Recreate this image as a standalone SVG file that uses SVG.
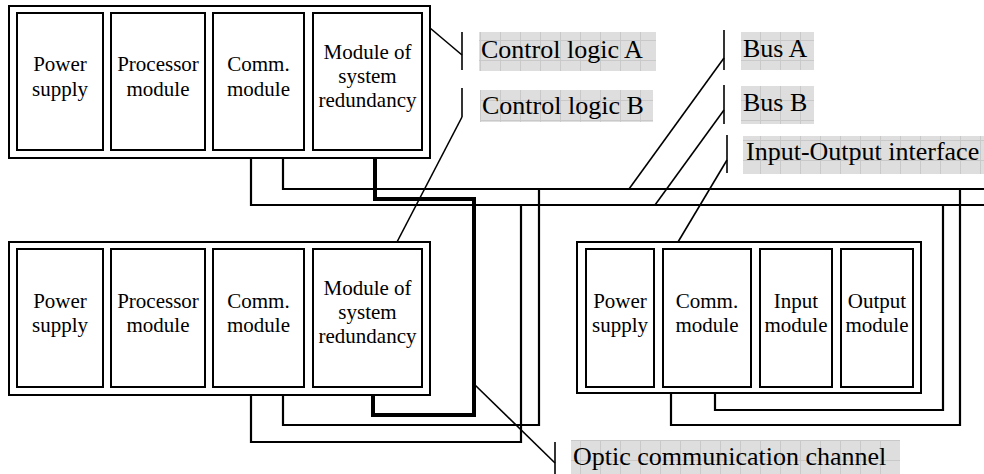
<svg xmlns="http://www.w3.org/2000/svg" width="984" height="474" viewBox="0 0 984 474">
<defs>
<pattern id="grid" width="20" height="20" patternUnits="userSpaceOnUse">
<rect width="20" height="20" fill="#dedede"/>
<path d="M0.5,0 V20 M0,0.5 H20" stroke="#c9c9c9" stroke-width="1"/>
</pattern>
<style>
.rack{fill:#fff;stroke:#000;stroke-width:2}
.mod{fill:#fff;stroke:#000;stroke-width:2}
.mt{font-family:"Liberation Serif","Times New Roman",serif;font-size:21px;text-anchor:middle;fill:#000}
.lb{font-family:"Liberation Serif","Times New Roman",serif;font-size:26px;fill:#000}
.bg{fill:url(#grid)}
.wire{fill:none;stroke:#000;stroke-width:2.2}
.thick{fill:none;stroke:#000;stroke-width:4}
.lead{fill:none;stroke:#000;stroke-width:1.6}
</style>
</defs>
<rect width="984" height="474" fill="#fff"/>

<g id="connectors">
<path class="wire" d="M251,150 V205 H984"/>
<path class="wire" d="M283,150 V189 H984"/>
<path class="wire" d="M251,387 V442 H521 V205"/>
<path class="wire" d="M283,387 V425 H539 V189"/>
<path class="wire" d="M671,387 V425 H960 V189"/>
<path class="wire" d="M715,387 V410 H943 V205"/>
<path class="thick" d="M375,150 V199 H474 V415 H373 V387"/>
<path class="lead" d="M430,28 L462,55"/>
<path class="lead" d="M462,117 L397,242"/>
<path class="lead" d="M724,58 L629,189"/>
<path class="lead" d="M724,110 L655,205"/>
<path class="lead" d="M727,160 L678,242"/>
<path class="lead" d="M475,385 L555,463"/>
</g>

<g id="rack-top">
<rect class="rack" x="9" y="6" width="421" height="152"/>
<g id="top-power"><rect class="mod" x="17" y="13" width="86" height="137"/>
<text class="mt" x="60" y="71">Power</text><text class="mt" x="60" y="95.5">supply</text></g>
<g id="top-processor"><rect class="mod" x="111" y="13" width="94" height="137"/>
<text class="mt" x="158" y="71">Processor</text><text class="mt" x="158" y="95.5">module</text></g>
<g id="top-comm"><rect class="mod" x="213" y="13" width="91" height="137"/>
<text class="mt" x="258.5" y="71">Comm.</text><text class="mt" x="258.5" y="95.5">module</text></g>
<g id="top-redundancy"><rect class="mod" x="313" y="13" width="109" height="137"/>
<text class="mt" x="367.5" y="59">Module of</text><text class="mt" x="367.5" y="83">system</text><text class="mt" x="367.5" y="107">redundancy</text></g>
</g>

<g id="rack-bottom">
<rect class="rack" x="9" y="242" width="421" height="153"/>
<g id="bot-power"><rect class="mod" x="17" y="249" width="86" height="138"/>
<text class="mt" x="60" y="307.5">Power</text><text class="mt" x="60" y="331.5">supply</text></g>
<g id="bot-processor"><rect class="mod" x="111" y="249" width="94" height="138"/>
<text class="mt" x="158" y="307.5">Processor</text><text class="mt" x="158" y="331.5">module</text></g>
<g id="bot-comm"><rect class="mod" x="213" y="249" width="91" height="138"/>
<text class="mt" x="258.5" y="307.5">Comm.</text><text class="mt" x="258.5" y="331.5">module</text></g>
<g id="bot-redundancy"><rect class="mod" x="313" y="249" width="109" height="138"/>
<text class="mt" x="367.5" y="295">Module of</text><text class="mt" x="367.5" y="319">system</text><text class="mt" x="367.5" y="343">redundancy</text></g>
</g>

<g id="rack-io">
<rect class="rack" x="577" y="242" width="344" height="151"/>
<g id="io-power"><rect class="mod" x="586" y="249" width="68" height="138"/>
<text class="mt" x="620" y="307.5">Power</text><text class="mt" x="620" y="331.5">supply</text></g>
<g id="io-comm"><rect class="mod" x="663" y="249" width="88" height="138"/>
<text class="mt" x="707" y="307.5">Comm.</text><text class="mt" x="707" y="331.5">module</text></g>
<g id="io-input"><rect class="mod" x="760" y="249" width="72" height="138"/>
<text class="mt" x="796" y="307.5">Input</text><text class="mt" x="796" y="331.5">module</text></g>
<g id="io-output"><rect class="mod" x="841" y="249" width="72" height="138"/>
<text class="mt" x="877" y="307.5">Output</text><text class="mt" x="877" y="331.5">module</text></g>
</g>

<g id="label-control-a">
<path class="lead" d="M462,32 V70"/>
<rect class="bg" x="479" y="32" width="177" height="39"/>
<text class="lb" x="481" y="58">Control logic A</text>
</g>
<g id="label-control-b">
<path class="lead" d="M462,88 V117"/>
<rect class="bg" x="480" y="90" width="173" height="32"/>
<text class="lb" x="482" y="114">Control logic B</text>
</g>
<g id="label-bus-a">
<path class="lead" d="M724,30 V70"/>
<rect class="bg" x="741" y="32" width="73" height="38"/>
<text class="lb" x="743" y="57">Bus A</text>
</g>
<g id="label-bus-b">
<path class="lead" d="M724,85 V124"/>
<rect class="bg" x="741" y="86" width="73" height="38"/>
<text class="lb" x="743" y="111">Bus B</text>
</g>
<g id="label-io">
<path class="lead" d="M727,135 V173"/>
<rect class="bg" x="743" y="136" width="241" height="38"/>
<text class="lb" x="746" y="160">Input-Output interface</text>
</g>
<g id="label-optic">
<path class="lead" d="M555,442 V474"/>
<rect class="bg" x="571" y="440" width="329" height="34"/>
<text class="lb" x="573" y="465">Optic communication channel</text>
</g>
</svg>
